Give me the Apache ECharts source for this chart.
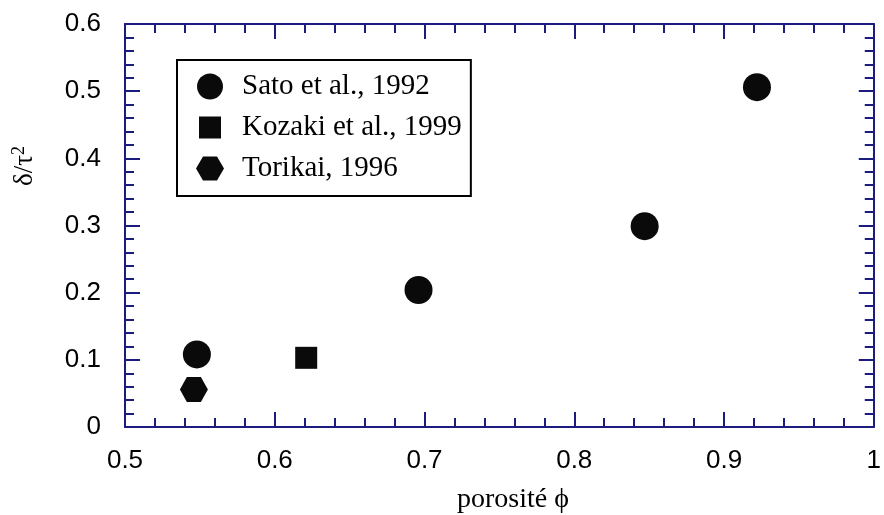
<!DOCTYPE html>
<html>
<head>
<meta charset="utf-8">
<script src="https://cdn.jsdelivr.net/npm/echarts@6/dist/echarts.min.js"></script>
<style>html,body{margin:0;padding:0;background:#fff;}#c{width:884px;height:515px;}</style>
</head>
<body>
<div id="c"></div>
<script>
var satoX = [0.548, 0.696, 0.847, 0.922];
var satoY = [0.108, 0.204, 0.299, 0.506];
var kozakiX = [0.621];
var kozakiY = [0.103];
var torikaiX = [0.546];
var torikaiY = [0.056];
var seriesNames = ['Sato et al., 1992', 'Kozaki et al., 1999', 'Torikai, 1996'];

function pairs(xs, ys) { return xs.map(function (x, i) { return [x, ys[i]]; }); }

var axisColor = '#1c1c80';
var markColor = '#0a0a0a';
var hexPath = 'path://M-1,0 L-0.5,-0.866 L0.5,-0.866 L1,0 L0.5,0.866 L-0.5,0.866 Z';
var legendRect = 'path://M-14,-13 M14,13 M-11,-11 L11,-11 L11,11 L-11,11 Z';

function xAx(pos, labels) {
  return {
    type: 'value', position: pos, min: 0.5, max: 1, interval: 0.1,
    axisLine: { show: true, onZero: false, lineStyle: { color: axisColor, width: 2 } },
    axisTick: { show: true, inside: true, length: 15, lineStyle: { color: axisColor, width: 2 } },
    minorTick: { show: true, splitNumber: 5, length: 9, lineStyle: { color: axisColor, width: 2 } },
    splitLine: { show: false },
    axisLabel: { show: labels, margin: 21, color: '#000', fontSize: 26, fontFamily: 'Liberation Sans' }
  };
}
function yAx(pos, labels) {
  return {
    type: 'value', position: pos, min: 0, max: 0.6, interval: 0.1,
    axisLine: { show: true, onZero: false, lineStyle: { color: axisColor, width: 2 } },
    axisTick: { show: true, inside: true, length: 15, lineStyle: { color: axisColor, width: 2 } },
    minorTick: { show: true, splitNumber: 5, length: 9, lineStyle: { color: axisColor, width: 2 } },
    splitLine: { show: false },
    axisLabel: { show: labels, margin: 24, color: '#000', fontSize: 26, fontFamily: 'Liberation Sans' }
  };
}

var chart = echarts.init(document.getElementById('c'), null, { renderer: 'canvas' });
chart.setOption({
  animation: false,
  backgroundColor: '#fff',
  grid: { left: 125, right: 7, top: 24, bottom: 88 },
  xAxis: [xAx('bottom', true), xAx('top', false)],
  yAxis: [yAx('left', true), yAx('right', false)],
  legend: {
    orient: 'vertical', left: 177, top: 60,
    padding: [12, 9, 13, 19],
    itemGap: 12, itemWidth: 28, itemHeight: 26,
    borderColor: '#000', borderWidth: 2,
    textStyle: { fontSize: 29, fontFamily: 'Liberation Serif', color: '#000', padding: [0, 0, 0, 13] },
    data: [
      { name: seriesNames[0], icon: 'circle' },
      { name: seriesNames[1], icon: legendRect },
      { name: seriesNames[2], icon: hexPath }
    ]
  },
  graphic: [
    { type: 'text', x: 513, y: 500, style: { text: 'porosité ϕ', fontSize: 28, fontFamily: 'Liberation Serif', fill: '#000', align: 'center', verticalAlign: 'middle' } },
    { type: 'text', x: 25, y: 166, rotation: Math.PI / 2, style: {
        text: '{a|δ/τ}{s|2}', align: 'center', verticalAlign: 'middle', rich: {
          a: { fontSize: 27, fontFamily: 'Liberation Serif', color: '#000' },
          s: { fontSize: 18, fontFamily: 'Liberation Serif', color: '#000', verticalAlign: 'top', padding: [0, 0, 12, 0] }
        } } }
  ],
  series: [
    { name: seriesNames[0], type: 'scatter', data: pairs(satoX, satoY), symbol: 'circle', symbolSize: 28, itemStyle: { color: markColor, opacity: 1 } },
    { name: seriesNames[1], type: 'scatter', data: pairs(kozakiX, kozakiY), symbol: 'rect', symbolSize: 22, itemStyle: { color: markColor, opacity: 1 } },
    { name: seriesNames[2], type: 'scatter', data: pairs(torikaiX, torikaiY), symbol: hexPath, symbolSize: [28, 25], itemStyle: { color: markColor, opacity: 1 } }
  ]
});
</script>
</body>
</html>
